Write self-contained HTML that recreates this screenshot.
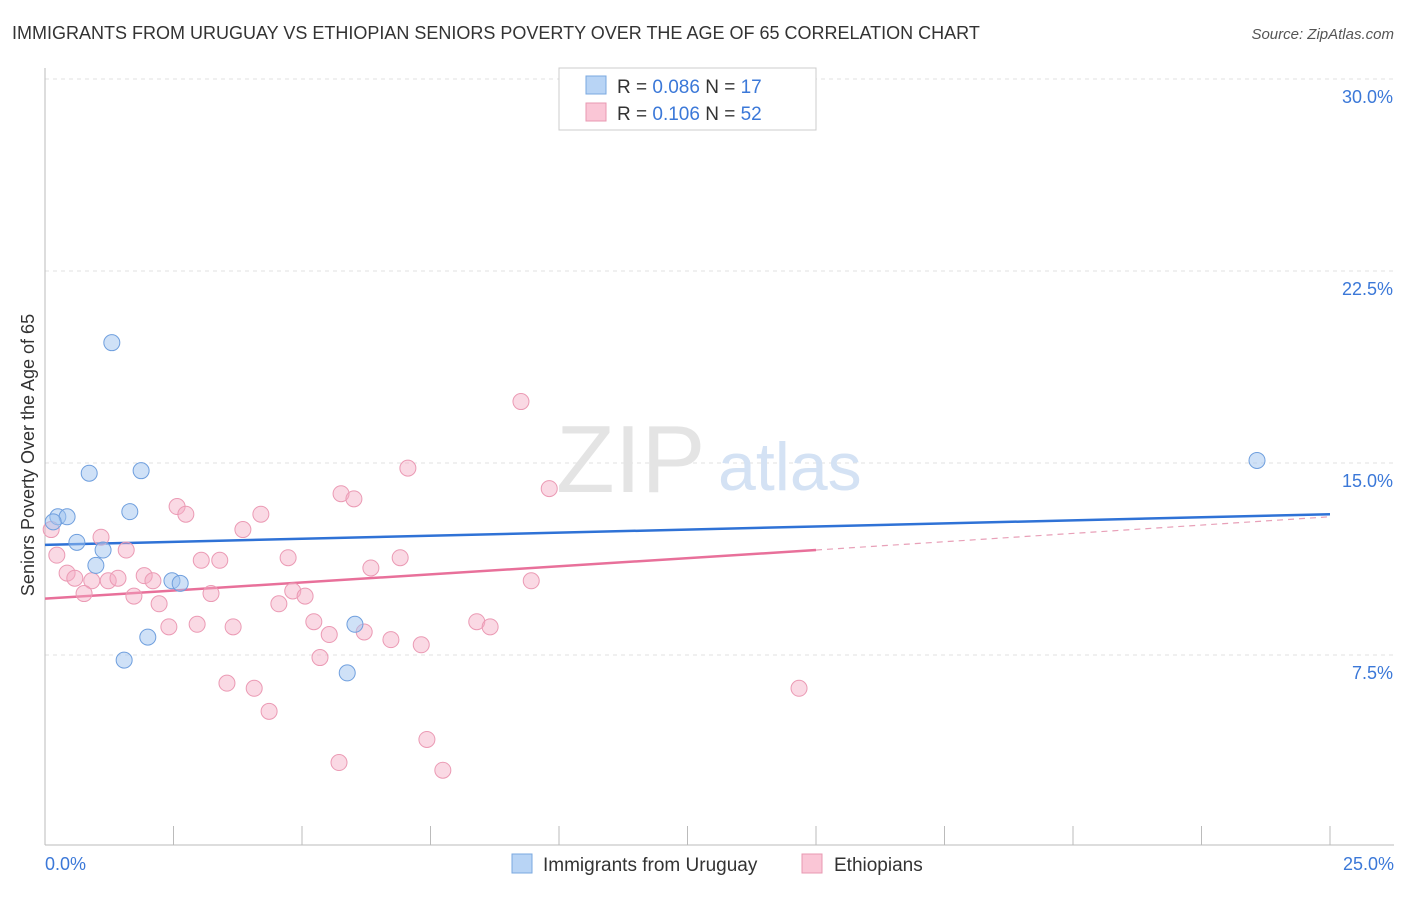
<!DOCTYPE html>
<html><head><meta charset="utf-8"><style>
body{margin:0;background:#fff;font-family:"Liberation Sans",sans-serif;}
svg text{font-family:"Liberation Sans",sans-serif;}
</style></head><body>
<svg id="chart" width="1406" height="892" viewBox="0 0 1406 892">
<text x="12" y="39" font-size="18" fill="#333">IMMIGRANTS FROM URUGUAY VS ETHIOPIAN SENIORS POVERTY OVER THE AGE OF 65 CORRELATION CHART</text>
<text x="1394" y="39" font-size="15" fill="#555" font-style="italic" text-anchor="end">Source: ZipAtlas.com</text>
<g id="grid"></g>
<g id="axes"></g>
<text x="556" y="492" font-size="96" fill="#e4e4e4" font-family="Liberation Serif">ZIP</text>
<text x="718" y="490" font-size="68" fill="#d4e2f4">atlas</text>
<text transform="translate(34,455) rotate(-90)" font-size="18" fill="#333" text-anchor="middle">Seniors Poverty Over the Age of 65</text>
<g id="trends"></g>
<g id="points"></g>
<g>
<rect x="559" y="68" width="257" height="62" fill="#fff" stroke="#ccc"/>
<rect x="586" y="76" width="20" height="18" fill="#b8d4f5" stroke="#7aa8e0"/>
<rect x="586" y="103" width="20" height="18" fill="#fac6d6" stroke="#e898b2"/>
<text x="617" y="93" font-size="19" fill="#333">R = <tspan fill="#3b78d8">0.086</tspan>   N = <tspan fill="#3b78d8">17</tspan></text>
<text x="617" y="120" font-size="19" fill="#333">R = <tspan fill="#3b78d8">0.106</tspan>   N = <tspan fill="#3b78d8">52</tspan></text>
</g>
<g>
<rect x="512" y="854" width="20" height="19" fill="#b8d4f5" stroke="#7aa8e0"/>
<text x="543" y="871" font-size="19" fill="#333">Immigrants from Uruguay</text>
<rect x="802" y="854" width="20" height="19" fill="#fac6d6" stroke="#e898b2"/>
<text x="834" y="871" font-size="19" fill="#333">Ethiopians</text>
</g>
</svg>
<script>
const blueX=[1.30,0.86,1.87,1.65,0.25,0.43,0.16,0.62,1.13,0.99,2.47,2.63,2.00,1.54,6.03,5.88,23.58];
const blueY=[19.7,14.6,14.7,13.1,12.9,12.9,12.7,11.9,11.6,11.0,10.4,10.3,8.2,7.3,8.7,6.8,15.1];
const pinkX=[11.67,9.26,7.06,9.81,5.76,6.01,2.57,2.74,4.20,3.85,0.12,1.09,1.58,0.23,3.04,3.40,4.73,6.91,6.34,0.43,0.58,0.91,1.23,1.42,1.93,2.10,9.46,4.82,5.06,0.76,1.73,3.23,2.22,4.55,5.23,8.40,8.66,2.96,2.41,3.66,5.53,6.21,6.73,7.32,5.35,3.54,4.07,14.67,4.36,7.43,5.72,7.74];
const pinkY=[28.9,17.4,14.8,14.0,13.8,13.6,13.3,13.0,13.0,12.4,12.4,12.1,11.6,11.4,11.2,11.2,11.3,11.3,10.9,10.7,10.5,10.4,10.4,10.5,10.6,10.4,10.4,10.0,9.8,9.9,9.8,9.9,9.5,9.5,8.8,8.8,8.6,8.7,8.6,8.6,8.3,8.4,8.1,7.9,7.4,6.4,6.2,6.2,5.3,4.2,3.3,3.0];
const yTicks=[7.5,15.0,22.5,30.0];
const yTickLabels=["7.5%","15.0%","22.5%","30.0%"];
const xTicks=[0,2.5,5,7.5,10,12.5,15,17.5,20,22.5,25];
const blueTrend=[11.8,13.0];
const pinkTrend=[9.7,11.6,12.9];
const pinkSolidEnd=15.0;

const NS="http://www.w3.org/2000/svg";
const X0=45,X1=1330,YB=847;
const sx=v=>X0+v/25*(X1-X0);
const sy=v=>YB-v/7.5*192;
function mk(tag,attrs,parent){const e=document.createElementNS(NS,tag);for(const k in attrs)e.setAttribute(k,attrs[k]);parent.appendChild(e);return e;}
const grid=document.getElementById('grid'),axes=document.getElementById('axes');
yTicks.forEach((t,i)=>{
 const l=mk('line',{x1:X0,x2:1394,y1:sy(t),y2:sy(t),stroke:'#e2e2e2','stroke-dasharray':'4,4'},grid);
 
 
 const tx=mk('text',{x:1393,y:sy(t)+24,'font-size':18,fill:'#3b78d8','text-anchor':'end'},grid);
 tx.textContent=yTickLabels[i];
 
 
});
const ya=mk('line',{x1:X0,x2:X0,y1:68,y2:845,stroke:'#bbb'},axes);


const xa=mk('line',{x1:X0,x2:1394,y1:845,y2:845,stroke:'#bbb'},axes);


xTicks.forEach(t=>{
 const l=mk('line',{x1:sx(t),x2:sx(t),y1:826,y2:845,stroke:'#bbb'},axes);
 
 
});
const xl0=mk('text',{x:45,y:870,'font-size':18,fill:'#3b78d8'},axes);xl0.textContent='0.0%';


const xl1=mk('text',{x:1394,y:870,'font-size':18,fill:'#3b78d8','text-anchor':'end'},axes);xl1.textContent='25.0%';



const pts=document.getElementById('points');
pinkX.forEach((x,i)=>{
 const c=mk('circle',{cx:sx(x),cy:sy(pinkY[i]),r:8,fill:'rgba(245,170,195,0.45)',stroke:'#eb9ab4','stroke-width':1},pts);
 
 
});
blueX.forEach((x,i)=>{
 const c=mk('circle',{cx:sx(x),cy:sy(blueY[i]),r:8,fill:'rgba(160,195,240,0.5)',stroke:'#6f9fde','stroke-width':1},pts);
 
 
});
const tr=document.getElementById('trends');
const bt=mk('line',{x1:sx(0),y1:sy(blueTrend[0]),x2:sx(25),y2:sy(blueTrend[1]),stroke:'#2f72d6','stroke-width':2.5},tr);


const pt=mk('line',{x1:sx(0),y1:sy(pinkTrend[0]),x2:sx(pinkSolidEnd),y2:sy(pinkTrend[1]),stroke:'#e8709a','stroke-width':2.5},tr);


const pd=mk('line',{x1:sx(pinkSolidEnd),y1:sy(pinkTrend[1]),x2:sx(25),y2:sy(pinkTrend[2]),stroke:'#e8a0b8','stroke-width':1.2,'stroke-dasharray':'6,5'},tr);


</script>
</body></html>
